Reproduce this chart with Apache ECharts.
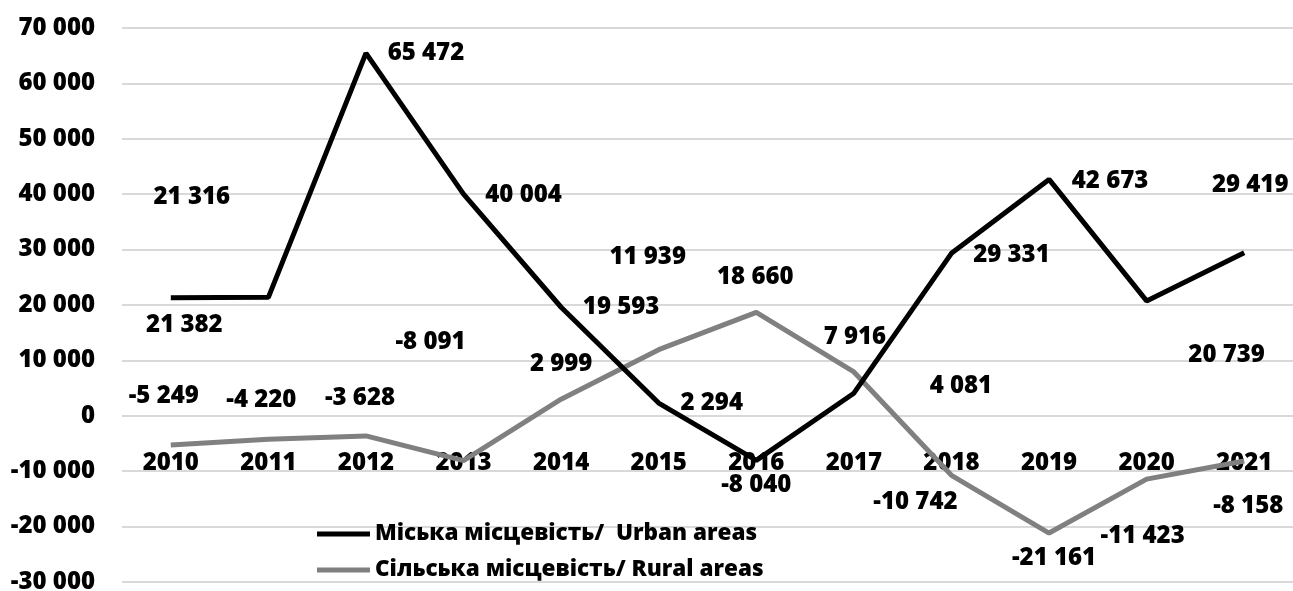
<!DOCTYPE html>
<html>

<head>
    <meta charset="utf-8">
    <script src="https://cdn.jsdelivr.net/npm/echarts@6.0.0/dist/echarts.min.js"></script>
    <style>
        html, body, #chart {
            width: 100%;
            height: 100%;
            margin: 0px;
            background: #fff;
        }
    </style>
</head>

<body>
    <div id="chart"></div>
    <script>
        var years = ['2010', '2011', '2012', '2013', '2014', '2015', '2016', '2017', '2018', '2019', '2020', '2021'];
        var urban = [21316, 21382, 65472, 40004, 19593, 2294, -8040, 4081, 29331, 42673, 20739, 29419];
        var rural = [-5249, -4220, -3628, -8091, 2999, 11939, 18660, 7916, -10742, -21161, -11423, -8158];
        var urbanName = 'Міська місцевість/  Urban areas';
        var ruralName = 'Сільська місцевість/ Rural areas';

        // label offsets in px (manually placed in the original)
        var urbanOffsets = [[21, -101], [-84, 28], [60, 0], [60, 1], [60, 0], [53, 0], [0, 25], [107, -7], [60, 2], [61, 2], [80, 54], [6, -68]];
        var ruralOffsets = [[-7, -49], [-7, -39], [-6, -38], [-33, -118], [0, -35], [-11, -93], [-1, -35], [1, -35], [-36, 27], [5, 25], [-4, 57], [4, 45]];

        var font = '"Open Sans", sans-serif';
        var weight = 800;

        function fmt(v) {
            var s = String(Math.abs(v)).replace(/\B(?=(\d{3})+(?!\d))/g, ' ');
            return (v < 0 ? '-' : '') + s;
        }

        function points(values, offsets) {
            return values.map(function (v, i) {
                return {
                    value: v,
                    label: { offset: offsets[i] }
                };
            });
        }

        var labelStyle = {
            show: true,
            position: 'inside',
            align: 'center',
            verticalAlign: 'middle',
            color: '#000',
            fontFamily: font,
            fontWeight: weight,
            fontSize: 24,
            formatter: function (p) { return fmt(p.value); }
        };

        var myChart = echarts.init(document.getElementById('chart'));
        var option = {
            animation: false,
            grid: { left: 122, right: 0, top: 28, bottom: 9, outerBoundsMode: 'none', containLabel: false },
            legend: {
                orient: 'vertical',
                left: 317,
                top: 519,
                padding: 0,
                itemWidth: 53,
                itemHeight: 5,
                itemGap: 6,
                icon: 'rect',
                textStyle: {
                    color: '#000',
                    fontFamily: font,
                    fontWeight: weight,
                    fontSize: 22.5,
                    lineHeight: 30
                },
                data: [urbanName, ruralName]
            },
            xAxis: {
                type: 'category',
                data: years,
                position: 'bottom',
                offset: -166,
                axisLine: { show: false, onZero: false },
                axisTick: { show: false },
                axisLabel: {
                    color: '#000',
                    fontFamily: font,
                    fontWeight: weight,
                    fontSize: 24,
                    margin: 35
                }
            },
            yAxis: {
                type: 'value',
                min: -30000,
                max: 70000,
                interval: 10000,
                axisLabel: {
                    color: '#000',
                    fontFamily: font,
                    fontWeight: weight,
                    fontSize: 24,
                    margin: 27,
                    formatter: fmt
                },
                splitLine: { lineStyle: { color: '#d9d9d9', width: 2 } }
            },
            series: [
                {
                    name: urbanName,
                    type: 'line',
                    data: points(urban, urbanOffsets),
                    symbol: 'circle',
                    symbolSize: 0,
                    showSymbol: true,
                    color: '#000',
                    lineStyle: { color: '#000', width: 5 },
                    label: labelStyle,
                    z: 3
                },
                {
                    name: ruralName,
                    type: 'line',
                    data: points(rural, ruralOffsets),
                    symbol: 'circle',
                    symbolSize: 0,
                    showSymbol: true,
                    color: '#808080',
                    lineStyle: { color: '#808080', width: 5 },
                    label: labelStyle,
                    z: 2
                }
            ]
        };
        myChart.setOption(option);
    </script>
</body>

</html>
